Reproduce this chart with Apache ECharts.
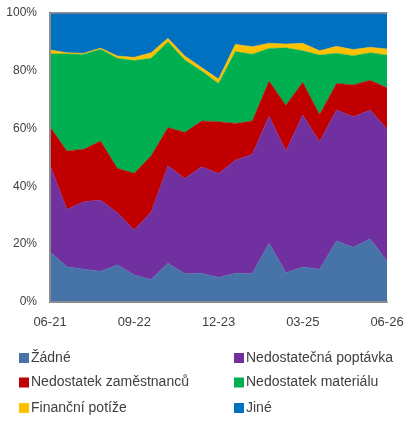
<!DOCTYPE html>
<html><head><meta charset="utf-8">
<script src="https://cdn.jsdelivr.net/npm/echarts@6/dist/echarts.min.js"></script>
<style>html,body{margin:0;padding:0;background:#fff}#c{width:415px;height:421px}</style>
</head><body><div id="c"></div>
<script>
const categories = ['06-21','09-21','12-21','03-22','06-22','09-22','12-22','03-23','06-23','09-23','12-23','03-24','06-24','09-24','12-24','03-25','06-25','09-25','12-25','03-26','06-26'];
const zadne = [17.4,12.2,11.3,10.6,12.8,9.3,7.8,13.4,9.8,9.9,8.5,9.9,9.8,20.3,10.1,12.1,11.3,21.1,18.9,21.8,14.2];
const poptavka = [29.9,19.8,23.3,24.6,18.0,15.6,23.3,33.7,32.9,36.8,35.9,39.1,41.2,43.9,42.1,52.5,44.1,45.2,45.1,44.5,45.6];
const zamestnanci = [13.2,20.2,18.2,20.4,15.4,19.6,19.4,13.2,15.9,15.8,17.9,12.7,11.5,12.1,15.8,11.3,9.4,9.2,11.0,10.3,14.2];
const material = [25.2,33.5,32.8,31.7,38.0,38.9,33.7,29.6,25.0,17.3,13.2,24.8,23.1,11.3,19.8,10.9,20.5,10.4,10.1,9.5,11.3];
const financni = [1.4,0.4,0.3,0.4,0.8,1.1,1.9,1.2,1.4,1.2,1.5,2.5,2.6,1.8,1.3,2.6,1.5,2.4,2.1,1.9,2.1];
const jine = [12.9,13.9,14.1,12.3,15.0,15.5,13.9,8.9,15.0,19.0,23.0,11.0,11.8,10.6,10.9,10.6,13.2,11.7,12.8,12.0,12.6];
const seriesNames = ['Žádné','Nedostatečná poptávka','Nedostatek zaměstnanců','Nedostatek materiálu','Finanční potíže','Jiné'];
const seriesData = [zadne,poptavka,zamestnanci,material,financni,jine];
const colors = ['#4674a8','#7030a0','#c00000','#00b050','#ffc000','#0070c0'];

const chart = echarts.init(document.getElementById('c'));
const font = 'Liberation Sans';
const legendLeft = [19,234];
const legendTop = [350.5,375,400.5];
chart.setOption({
  animation:false,
  grid:{left:50,right:28,top:12.5,bottom:119},
  xAxis:[{
    type:'category',data:categories,boundaryGap:false,
    axisLine:{lineStyle:{color:'#8c8c8c',width:2}},
    axisTick:{show:false},
    axisLabel:{interval:4,color:'#404040',fontSize:13,fontFamily:font,margin:14,showMaxLabel:true},
    z:5
  },{
    type:'category',data:categories,boundaryGap:false,position:'top',
    axisLine:{show:true,lineStyle:{color:'#8c8c8c',width:1.5}},
    axisTick:{show:false},axisLabel:{show:false},z:5
  }],
  yAxis:{
    type:'value',min:0,max:100,interval:20,
    axisLine:{show:true,lineStyle:{color:'#8c8c8c',width:2}},
    axisTick:{show:false},splitLine:{show:false},
    axisLabel:{formatter:'{value}%',color:'#404040',fontSize:12,fontFamily:font,margin:13},
    z:5
  },
  legend:seriesNames.map((n,i)=>({
    left:legendLeft[i%2],top:legendTop[Math.floor(i/2)],
    itemWidth:10,itemHeight:10,icon:'rect',padding:0,
    data:[n],
    textStyle:{color:'#404040',fontSize:14,fontFamily:font,lineHeight:15,padding:[0,0,0,-3]}
  })),
  series:seriesNames.map((n,i)=>({
    name:n,type:'line',stack:'total',data:seriesData[i],
    showSymbol:false,symbol:'none',
    lineStyle:{width:0.5,color:colors[i]},
    itemStyle:{color:colors[i]},
    areaStyle:{color:colors[i],opacity:1}
  }))
});
</script></body></html>
